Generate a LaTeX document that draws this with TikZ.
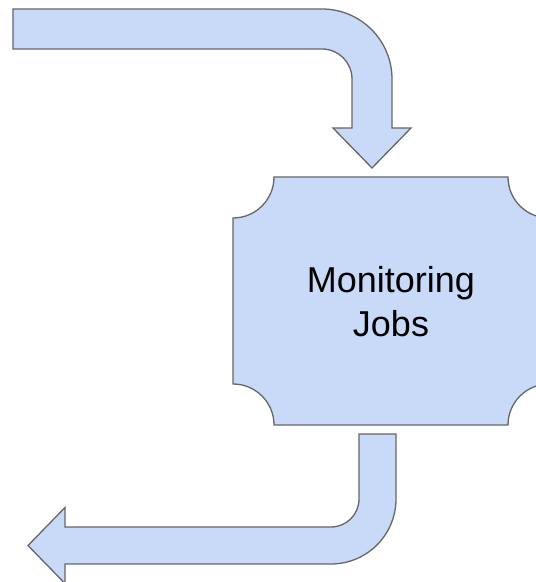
\documentclass[tikz,border=0pt]{standalone}
\usepackage{fontspec}
\setmainfont{Liberation Sans}
\definecolor{shapefill}{HTML}{C9DAF8}
\definecolor{shapeline}{HTML}{666666}
\begin{document}
\begin{tikzpicture}[x=1pt,y=1pt,
  blockshape/.style={fill=shapefill,draw=shapeline,line width=1.3pt,line join=miter},
  labeltext/.style={inner sep=0pt,align=center,font=\fontsize{36}{44}\selectfont}]
\useasboundingbox (0,0) rectangle (536,582);
\clip (0,0) rectangle (536,582);
% top bent arrow
\draw[blockshape] (13,573) -- (322,573) arc[start angle=90,end angle=0,radius=70]
  -- (392,454) -- (411,454) -- (372,414) -- (333,454) -- (352,454) -- (352,503)
  arc[start angle=0,end angle=90,radius=30] -- (13,533) -- cycle;
% box with concave corners
\draw[blockshape] (274,405) -- (508,405) arc[start angle=180,end angle=270,radius=41]
  -- (549,198) arc[start angle=90,end angle=180,radius=41]
  -- (274,157) arc[start angle=0,end angle=90,radius=41]
  -- (233,364) arc[start angle=-90,end angle=0,radius=41] -- cycle;
\node[labeltext] (mon) at (391,280) {Monitoring\\Jobs};
% bottom bent arrow
\draw[blockshape] (359,148) -- (396,148) -- (396,83) arc[start angle=0,end angle=-90,radius=65]
  -- (65,18) -- (65,-1.5) -- (28,36.5) -- (65,74.5) -- (65,55) -- (331,55)
  arc[start angle=-90,end angle=0,radius=28] -- cycle;
\end{tikzpicture}
\end{document}
